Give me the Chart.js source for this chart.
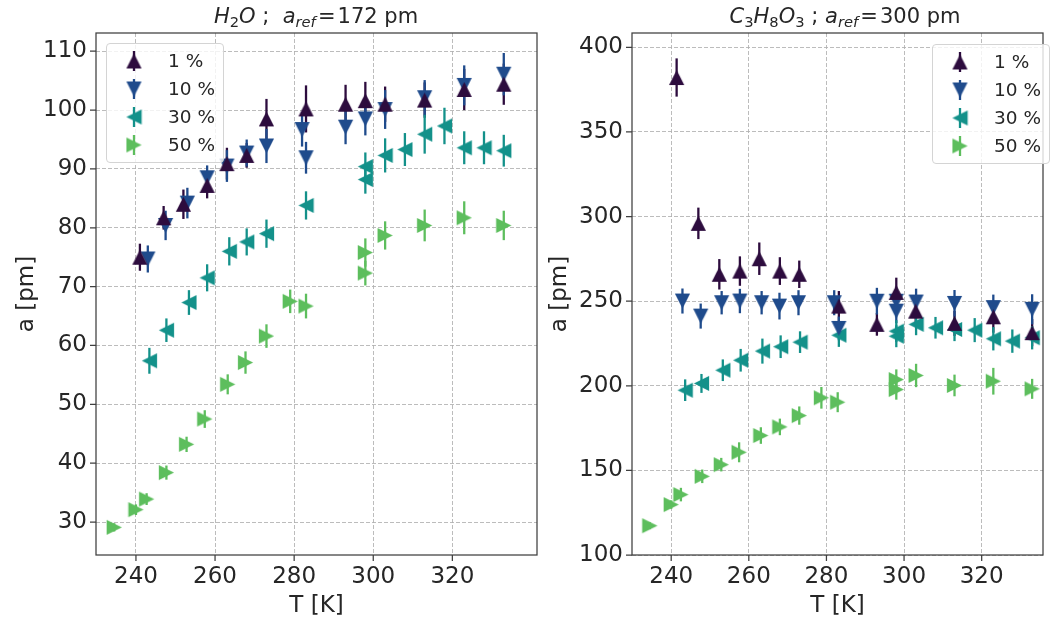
<!DOCTYPE html>
<html><head><meta charset="utf-8">
<script src="https://cdn.jsdelivr.net/npm/chart.js@4.4.1/dist/chart.umd.min.js"></script>
<style>
html,body{margin:0;padding:0;background:#fff;}
#wrap{position:relative;width:1052px;height:622px;overflow:hidden;font-family:'DejaVu Sans',sans-serif;color:#262626;background:#fff;}
canvas.ch{position:absolute;top:0;}
.title{position:absolute;top:3px;font-size:21px;line-height:26px;white-space:nowrap;transform:translateX(-50%);}
.title sub{font-size:70%;line-height:0;vertical-align:-0.28em;}
.legend{position:absolute;width:118px;height:120px;border:1px solid #d4d4d4;border-radius:4px;background:rgba(255,255,255,0.8);box-sizing:border-box;}
.legend canvas{position:absolute;}
.legend span{position:absolute;left:61px;font-size:18.5px;line-height:28px;white-space:nowrap;}
</style>
</head><body>
<div id="wrap">
<canvas id="c1" class="ch" width="560" height="622" style="left:0;width:560px;height:622px"></canvas>
<canvas id="c2" class="ch" width="522" height="622" style="left:530px;width:522px;height:622px"></canvas>
<div class="title" style="left:316px"><i>H</i><sub>2</sub><i>O</i>&nbsp;;&nbsp; <i>a</i><sub><i>ref</i></sub>&#8202;=&#8202;172 pm</div>
<div class="title" style="left:845px"><i>C</i><sub>3</sub><i>H</i><sub>8</sub><i>O</i><sub>3</sub>&nbsp;; <i>a</i><sub><i>ref</i></sub>&#8202;=&#8202;300 pm</div>
<div class="legend" id="leg1" style="left:106px;top:43px"></div>
<div class="legend" id="leg2" style="left:932px;top:44px"></div>
</div>
<script>
// ---------- data ----------
const seriesLabels = ['1 %', '10 %', '30 %', '50 %'];
const xTicks = [240, 260, 280, 300, 320];
const yTicksH2O = [30, 40, 50, 60, 70, 80, 90, 100, 110];
const yTicksGly = [100, 150, 200, 250, 300, 350, 400];

// H2O panel
const T_H2O_1  = [241, 247, 252, 258, 263, 268, 273, 283, 293, 298, 303, 313, 323, 333];
const A_H2O_1  = [75.0, 81.7, 84.0, 87.2, 90.9, 92.3, 98.5, 100.2, 101.0, 101.6, 101.0, 101.7, 103.5, 104.4];
const E_H2O_1  = [2.3, 2.0, 2.5, 2.2, 2.7, 2.1, 3.4, 4.0, 3.3, 3.2, 3.0, 3.0, 3.5, 3.5];
const T_H2O_10 = [243, 247.5, 253, 258, 263, 268, 273, 282, 283, 293, 298, 303, 313, 323, 333];
const A_H2O_10 = [74.7, 80.4, 84.2, 88.5, 90.5, 92.7, 93.9, 96.7, 91.9, 97.1, 98.5, 100.1, 102.1, 104.2, 106.1];
const E_H2O_10 = [2.3, 2.5, 2.6, 2.1, 2.7, 2.3, 2.9, 2.9, 2.7, 2.9, 2.8, 3.3, 3.0, 3.4, 3.6];
const T_H2O_30 = [243.4, 247.7, 253.4, 258, 263.6, 268, 273, 283, 298, 298, 303, 308, 313, 318, 323, 328, 333];
const A_H2O_30 = [57.4, 62.6, 67.3, 71.5, 76.0, 77.6, 79.0, 83.8, 90.4, 88.2, 92.3, 93.3, 95.9, 97.3, 93.6, 93.6, 93.1];
const E_H2O_30 = [2.2, 2.0, 2.1, 2.3, 2.4, 2.3, 2.4, 2.4, 2.4, 2.4, 2.9, 2.8, 3.3, 3.1, 2.8, 2.8, 2.7];
const T_H2O_50 = [234.5, 240, 242.7, 247.7, 252.8, 257.4, 263.2, 267.7, 273, 279, 283, 298, 298, 303, 313, 323, 333];
const A_H2O_50 = [29.1, 32.1, 33.9, 38.4, 43.2, 47.5, 53.4, 57.1, 61.6, 67.5, 66.7, 75.8, 72.3, 78.7, 80.4, 81.7, 80.4];
const E_H2O_50 = [0.7, 0.9, 1.0, 1.2, 1.3, 1.5, 1.7, 1.9, 2.0, 2.0, 2.1, 2.4, 2.1, 2.4, 2.7, 2.8, 2.5];

// C3H8O3 panel
const T_GLY_1  = [241.4, 247, 252.4, 257.7, 262.7, 268, 273, 283.2, 293, 298, 303, 313, 323, 333];
const A_GLY_1  = [382.2, 296.0, 265.9, 267.8, 275.1, 267.8, 265.9, 247.1, 236.3, 255.2, 244.1, 236.9, 240.8, 231.4];
const E_GLY_1  = [11.3, 9.3, 9.0, 8.7, 9.6, 8.2, 8.1, 8.9, 6.7, 8.7, 8.5, 7.4, 9.4, 8.0];
const T_GLY_10 = [242.9, 247.6, 253, 257.7, 263.3, 267.9, 272.8, 282, 283.2, 293, 298, 298, 303.1, 313, 323, 333];
const A_GLY_10 = [250.1, 241.2, 249.1, 250.1, 249.1, 247.1, 249.1, 249.1, 233.9, 250.0, 250.0, 244.1, 249.5, 248.7, 246.2, 245.2];
const E_GLY_10 = [7.4, 7.4, 6.9, 7.2, 6.9, 7.9, 7.4, 7.4, 7.0, 7.9, 7.0, 7.0, 7.9, 7.9, 7.7, 8.9];
const T_GLY_30 = [243.6, 247.8, 253.3, 257.9, 263.5, 268.2, 273.2, 283.2, 298, 298, 303.1, 308.1, 313, 318.2, 323, 327.9, 333];
const A_GLY_30 = [197.4, 201.4, 209.2, 215.1, 220.5, 223.1, 225.8, 229.9, 232.3, 229.3, 236.3, 234.3, 233.3, 232.9, 227.8, 226.4, 228.4];
const E_GLY_30 = [6.4, 5.6, 6.4, 6.7, 7.4, 6.7, 6.4, 6.9, 6.5, 6.5, 6.4, 6.4, 6.9, 7.1, 6.9, 6.9, 6.9];
const T_GLY_50 = [234.5, 240, 242.5, 248, 252.9, 257.5, 263.1, 268, 273, 278.7, 282.9, 298, 298, 303.1, 313, 323, 333];
const A_GLY_50 = [117.3, 129.8, 135.7, 146.5, 153.4, 160.7, 170.6, 175.7, 182.4, 192.9, 190.3, 203.7, 197.8, 206.1, 200.2, 202.7, 198.2];
const E_GLY_50 = [2.0, 2.5, 4.0, 4.0, 4.0, 5.9, 4.9, 4.9, 5.4, 6.4, 5.9, 6.0, 6.0, 6.9, 6.4, 7.9, 5.9];

// ---------- styles ----------
const FONT = "'DejaVu Sans', sans-serif";
const TXT = '#262626';
const SPINE = '#3f3f3f';
const GRID = 'rgba(176,176,176,0.85)';
const colors = ['#2d0c3e', '#1f4b8c', '#13918a', '#5dbe5d'];
const dirs = ['up', 'down', 'left', 'right'];

function makeMarker(color, dir) {
  const c = document.createElement('canvas');
  c.width = 17; c.height = 17;
  const g = c.getContext('2d');
  const cx = 8.5, cy = 8.5, s = 7.6;
  g.fillStyle = color;
  g.beginPath();
  if (dir === 'up') { g.moveTo(cx, cy - s); g.lineTo(cx - s, cy + s); g.lineTo(cx + s, cy + s); }
  else if (dir === 'down') { g.moveTo(cx, cy + s); g.lineTo(cx - s, cy - s); g.lineTo(cx + s, cy - s); }
  else if (dir === 'left') { g.moveTo(cx - s, cy); g.lineTo(cx + s, cy - s); g.lineTo(cx + s, cy + s); }
  else { g.moveTo(cx + s, cy); g.lineTo(cx - s, cy - s); g.lineTo(cx - s, cy + s); }
  g.closePath();
  g.fill();
  return c;
}
const markers = colors.map((c, i) => makeMarker(c, dirs[i]));

const errPlugin = {
  id: 'errbars',
  beforeDatasetsDraw(chart) {
    const ctx = chart.ctx, ys = chart.scales.y, a = chart.chartArea;
    ctx.save();
    ctx.beginPath(); ctx.rect(a.left, a.top, a.right - a.left, a.bottom - a.top); ctx.clip();
    chart.data.datasets.forEach((ds, d) => {
      const meta = chart.getDatasetMeta(d);
      ctx.strokeStyle = ds.borderColor; ctx.lineWidth = 2.3;
      ds.data.forEach((p, i) => {
        const el = meta.data[i];
        ctx.beginPath();
        ctx.moveTo(el.x, ys.getPixelForValue(p.y - p.e));
        ctx.lineTo(el.x, ys.getPixelForValue(p.y + p.e));
        ctx.stroke();
      });
    });
    ctx.restore();
  }
};

const framePlugin = {
  id: 'frame',
  afterDraw(chart) {
    const ctx = chart.ctx, a = chart.chartArea;
    ctx.save();
    ctx.strokeStyle = SPINE; ctx.lineWidth = 1.25; ctx.setLineDash([]);
    const r = Math.min(a.right, chart.width - 0.7);
    ctx.strokeRect(a.left, a.top, r - a.left, a.bottom - a.top);
    ctx.beginPath();
    chart.scales.x.ticks.forEach(t => {
      const px = chart.scales.x.getPixelForValue(t.value);
      ctx.moveTo(px, a.bottom); ctx.lineTo(px, a.bottom + 6);
    });
    chart.scales.y.ticks.forEach(t => {
      const py = chart.scales.y.getPixelForValue(t.value);
      ctx.moveTo(a.left, py); ctx.lineTo(a.left - 6, py);
    });
    ctx.stroke();
    ctx.restore();
  }
};

function buildDatasets(Ts, As, Es) {
  return Ts.map((T, k) => ({
    label: seriesLabels[k],
    data: T.map((t, i) => ({ x: t, y: As[k][i], e: Es[k][i] })),
    borderColor: colors[k],
    backgroundColor: colors[k],
    pointStyle: markers[k],
    pointRadius: 8,
    showLine: false
  }));
}

function makeChart(id, datasets, o) {
  return new Chart(document.getElementById(id), {
    type: 'scatter',
    data: { datasets },
    plugins: [errPlugin, framePlugin],
    options: {
      responsive: false, animation: false, devicePixelRatio: 1,
      layout: { padding: { top: 33, left: 0, right: o.padRight, bottom: 0 } },
      plugins: { legend: { display: false }, tooltip: { enabled: false }, title: { display: false } },
      scales: {
        x: {
          type: 'linear', min: o.xMin, max: o.xMax,
          afterBuildTicks: s => { s.ticks = xTicks.map(v => ({ value: v })); },
          afterFit: s => { s.height = 67; s.paddingLeft = 0; s.paddingRight = 0; },
          grid: { color: GRID, lineWidth: 1, drawTicks: false },
          border: { display: false, dash: [4, 2] },
          ticks: { font: { family: FONT, size: 23 }, color: TXT, padding: 8, maxRotation: 0, autoSkip: false },
          title: { display: true, text: 'T [K]', font: { family: FONT, size: 23 }, color: TXT, padding: { top: 0, bottom: 2 } }
        },
        y: {
          type: 'linear', min: o.yMin, max: o.yMax,
          afterBuildTicks: s => { s.ticks = o.yTicks.map(v => ({ value: v })); },
          afterFit: s => { s.width = o.yWidth; s.paddingTop = 0; s.paddingBottom = 0; },
          grid: { color: GRID, lineWidth: 1, drawTicks: false },
          border: { display: false, dash: [4, 2] },
          ticks: { font: { family: FONT, size: 23 }, color: TXT, padding: 9, autoSkip: false },
          title: { display: true, text: 'a [pm]', font: { family: FONT, size: 23 }, color: TXT, padding: { top: o.yTitlePad, bottom: 0 } }
        }
      }
    }
  });
}

makeChart('c1',
  buildDatasets([T_H2O_1, T_H2O_10, T_H2O_30, T_H2O_50], [A_H2O_1, A_H2O_10, A_H2O_30, A_H2O_50], [E_H2O_1, E_H2O_10, E_H2O_30, E_H2O_50]),
  { xMin: 229.9, xMax: 341.4, yMin: 24.4, yMax: 113.1, yTicks: yTicksH2O, yWidth: 96, yTitlePad: 13, padRight: 23 });
makeChart('c2',
  buildDatasets([T_GLY_1, T_GLY_10, T_GLY_30, T_GLY_50], [A_GLY_1, A_GLY_10, A_GLY_30, A_GLY_50], [E_GLY_1, E_GLY_10, E_GLY_30, E_GLY_50]),
  { xMin: 229.9, xMax: 335.8, yMin: 100, yMax: 408.5, yTicks: yTicksGly, yWidth: 102, yTitlePad: 16, padRight: 0 });

// ---------- legends (HTML) ----------
function buildLegend(id) {
  const box = document.getElementById(id);
  const rows = [16.5, 44.5, 72.5, 100.5];
  seriesLabels.forEach((lab, k) => {
    const c = document.createElement('canvas');
    c.width = 24; c.height = 26;
    c.style.left = (27 - 12) + 'px'; c.style.top = (rows[k] - 13) + 'px';
    const g = c.getContext('2d');
    g.strokeStyle = colors[k]; g.lineWidth = 2.3;
    g.beginPath(); g.moveTo(12, 3); g.lineTo(12, 23); g.stroke();
    g.drawImage(markers[k], 12 - 8.5, 13 - 8.5);
    box.appendChild(c);
    const s = document.createElement('span');
    s.textContent = lab;
    s.style.top = (rows[k] - 14) + 'px';
    box.appendChild(s);
  });
}
buildLegend('leg1');
buildLegend('leg2');
</script>
</body></html>
